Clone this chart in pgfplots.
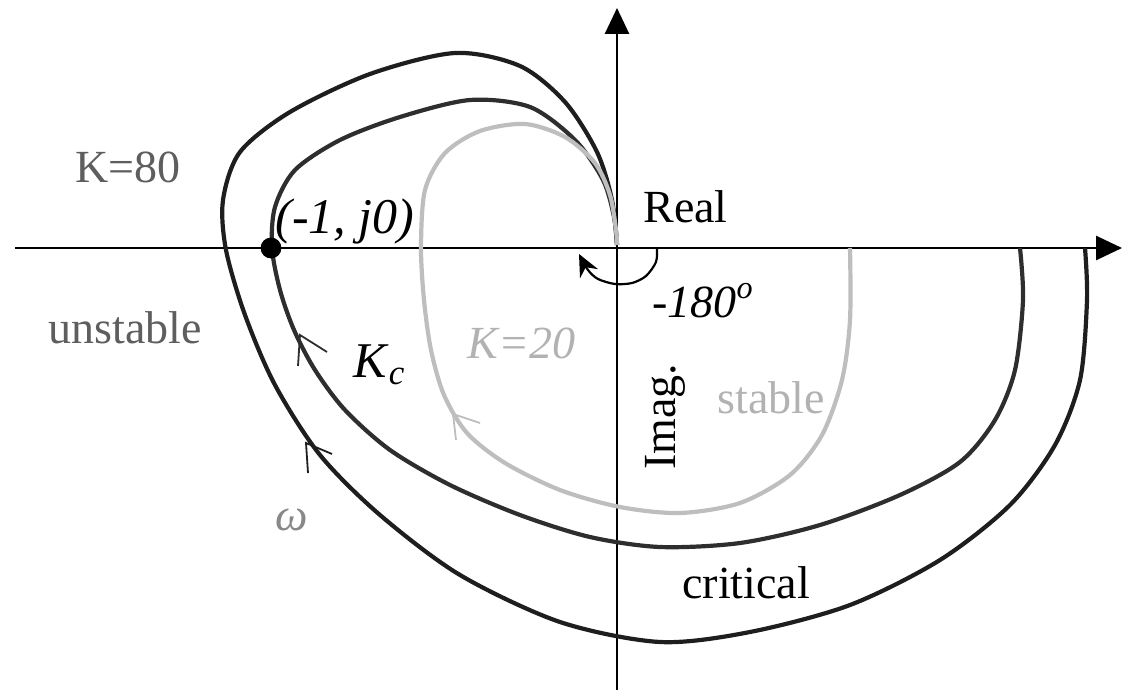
\documentclass[border=0pt]{standalone}
\usepackage{pgfplots}
\pgfplotsset{compat=1.18}
\usepackage{fontspec}
\setmainfont{Liberation Serif}
\usetikzlibrary{arrows.meta}

\definecolor{curvedark}{HTML}{1E1E1E}
\definecolor{curvemid}{HTML}{2E2E2E}
\definecolor{curvelight}{HTML}{BEBEBE}
\definecolor{textgray}{HTML}{5E5E5E}
\definecolor{textlight}{HTML}{B2B2B2}
\definecolor{omegagray}{HTML}{888888}

\tikzset{lbl/.style={font=\fontsize{23}{26}\selectfont, inner sep=0pt, anchor=base west}}

\begin{document}
\begin{tikzpicture}
\begin{axis}[
  scale only axis, width=562pt, height=345pt,
  xmin=0, xmax=1124, ymin=0, ymax=690, y dir=reverse,
  hide axis, clip=false,
]
\coordinate (bl) at (rel axis cs:0,0);
\coordinate (tr) at (rel axis cs:1,1);

% real and imaginary axes
\draw[line width=1.4pt, -{Triangle[length=13pt,width=12pt]}] (axis cs:15,248) -- (axis cs:1122,248);
\draw[line width=1.4pt, -{Triangle[length=13pt,width=12pt]}] (axis cs:617,690) -- (axis cs:617,8);

% K = 80 locus
\addplot[curvedark, line width=2.1pt, smooth, tension=0.5] coordinates {
 (1085,248) (1087,300) (1080,380) (1055,445) (1010,505) (940,560) (850,605)
 (750,632) (660,642) (560,622) (460,575) (380,515) (320,455) (275,385)
 (245,315) (226,250) (223,200) (240,152) (290,112) (370,74) (455,53)
 (520,66) (565,102) (597,152) (612,200) (617,245)};

% critical gain locus
\addplot[curvemid, line width=2.1pt, smooth, tension=0.5] coordinates {
 (1020,248) (1023,300) (1015,370) (995,420) (960,462) (900,495) (820,525)
 (740,543) (660,547) (590,537) (520,515) (450,485) (390,450) (345,410)
 (315,370) (294,330) (280,290) (272,248) (275,207) (295,170) (340,140)
 (400,117) (470,100) (530,107) (575,140) (603,180) (614,217) (617,245)};

% K = 20 locus
\addplot[curvelight, line width=2.1pt, smooth, tension=0.5] coordinates {
 (850,248) (850,320) (842,380) (822,435) (790,475) (740,503) (680,513)
 (620,507) (560,490) (505,463) (467,433) (444,395) (431,350) (424,300)
 (421,247) (425,190) (445,153) (480,131) (525,124) (565,137) (595,163)
 (610,195) (616,230) (617,245)};

% direction chevrons
\addplot[curvemid, line width=0.9pt] coordinates {(327,352) (300,335) (298,366)};
\addplot[curvedark, line width=0.9pt] coordinates {(332,454) (306,443) (308,473)};
\addplot[curvelight, line width=0.9pt] coordinates {(480,423) (453,414) (456,440)};

% phase arc of -180 degrees
\addplot[black, line width=1.1pt, smooth, -{Stealth[length=11pt,width=10pt]}] coordinates {
 (657,248) (656,262) (646,276) (632,283) (615,284) (598,279) (588,270) (579,254)};

% the point (-1, j0)
\addplot[only marks, mark=*, mark size=5pt, black] coordinates {(271,248)};

% labels
\node[lbl, text=textgray] at (axis cs:75,183) {K=80};
\node[lbl, text=textgray] at (axis cs:48,343) {unstable};
\node[lbl, text=black] at (axis cs:643,222) {Real};
\node[lbl, text=black] at (axis cs:652,317) {\textit{-180}\textsuperscript{\textit{o}}};
\node[lbl, text=black] at (axis cs:682,598) {critical};
\node[lbl, text=textlight] at (axis cs:717,413) {stable};
\node[lbl, text=textlight] at (axis cs:467,358) {\textit{K=20}};
\node[lbl, text=black, font=\fontsize{25}{28}\selectfont] at (axis cs:275,233) {\textit{(-1, j0)}};
\node[lbl, text=black, font=\fontsize{25}{28}\selectfont] at (axis cs:353,377) {\textit{K}\textsubscript{\textit{c}}};
\node[lbl, text=omegagray] at (axis cs:275,530) {\textit{ω}};
\node[lbl, rotate=90, text=black] at (axis cs:675,470) {Imag.};
\end{axis}
\pgfresetboundingbox
\path (bl) rectangle (tr);
\end{tikzpicture}
\end{document}
